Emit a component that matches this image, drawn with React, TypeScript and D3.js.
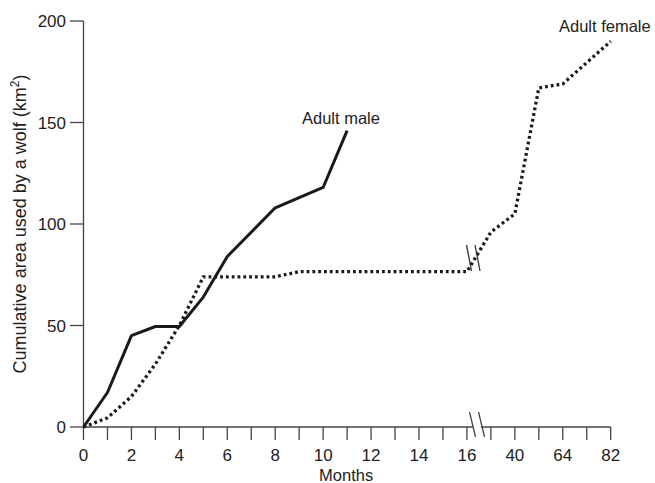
import React, { useRef, useEffect } from 'react';
import * as d3 from 'd3';

// --- Data ---
const maleMonths = [0, 1, 2, 3, 4, 5, 6, 8, 9, 10, 11];
const maleArea = [0, 17, 45, 49.5, 49.5, 64, 84, 108, 113, 118, 146];

const femaleMonths = [0, 1, 2, 3, 4, 5, 8, 9, 16, 28, 40, 52, 64, 82];
const femaleArea = [0, 4.5, 15, 31, 50, 74, 74, 76.5, 76.5, 96, 105, 167, 169, 190];

// broken axis: 0..16 months at full spacing, then 40/64/82 compressed
const xBreakDomain = [0, 16, 40, 64, 82];
const xBreakSlots = [0, 16, 18, 20, 22];
const xTickValues = [0, 1, 2, 3, 4, 5, 6, 7, 8, 9, 10, 11, 12, 13, 14, 15, 16, 28, 40, 52, 64, 73, 82];
const xTickLabels = ['0', '', '2', '', '4', '', '6', '', '8', '', '10', '', '12', '', '14', '', '16', '', '40', '', '64', '', '82'];
const yTickValues = [0, 50, 100, 150, 200];

const seriesLabels = ['Adult male', 'Adult female'];

const App = () => {
  const svgRef = useRef<SVGSVGElement>(null);

  useEffect(() => {
    const width = 655;
    const height = 483;
    const x0 = 83.5;
    const x1 = 610.7;
    const unit = (x1 - x0) / 22;

    const svg = d3.select(svgRef.current)
      .attr('width', width)
      .attr('height', height)
      .html('');

    const font = '"Liberation Sans", Arial, Helvetica, sans-serif';
    const ink = '#222';

    // --- Scales ---
    const xScale = d3.scaleLinear()
      .domain(xBreakDomain)
      .range(xBreakSlots.map(s => x0 + s * unit));
    const yScale = d3.scaleLinear().domain([0, 200]).range([427, 21]);

    const g = svg.append('g');

    // --- Y axis ---
    g.append('line')
      .attr('x1', x0).attr('x2', x0)
      .attr('y1', yScale(0)).attr('y2', yScale(200))
      .attr('stroke', '#444').attr('stroke-width', 1.3);

    g.selectAll('.ytick')
      .data(yTickValues)
      .enter()
      .append('line')
      .attr('x1', x0 - 13.5).attr('x2', x0)
      .attr('y1', d => yScale(d)).attr('y2', d => yScale(d))
      .attr('stroke', '#444').attr('stroke-width', 1.3);

    g.selectAll('.ylabel')
      .data(yTickValues)
      .enter()
      .append('text')
      .attr('x', 66)
      .attr('y', d => yScale(d) + 6)
      .attr('text-anchor', 'end')
      .attr('font-family', font)
      .attr('font-size', 17)
      .attr('fill', ink)
      .text(d => d);

    // --- X axis ---
    g.append('line')
      .attr('x1', x0).attr('x2', x1)
      .attr('y1', yScale(0)).attr('y2', yScale(0))
      .attr('stroke', '#444').attr('stroke-width', 1.3);

    g.selectAll('.xtick')
      .data(xTickValues)
      .enter()
      .append('line')
      .attr('x1', d => xScale(d)).attr('x2', d => xScale(d))
      .attr('y1', yScale(0)).attr('y2', yScale(0) + 13)
      .attr('stroke', '#444').attr('stroke-width', 1.3);

    g.selectAll('.xlabel')
      .data(xTickValues)
      .enter()
      .append('text')
      .attr('x', d => xScale(d))
      .attr('y', 461)
      .attr('text-anchor', 'middle')
      .attr('font-family', font)
      .attr('font-size', 17)
      .attr('fill', ink)
      .text((d, i) => xTickLabels[i]);

    // axis break marks
    const axBreak = xScale(16);
    g.append('rect')
      .attr('x', axBreak + 6).attr('y', yScale(0) - 2)
      .attr('width', 8).attr('height', 4)
      .attr('fill', '#fff');
    [5.6, 14.6].forEach(off => {
      g.append('line')
        .attr('x1', axBreak + off - 3).attr('x2', axBreak + off + 3)
        .attr('y1', yScale(0) - 15).attr('y2', yScale(0) + 10)
        .attr('stroke', '#444').attr('stroke-width', 1.3);
    });

    // --- Axis titles ---
    g.append('text')
      .attr('x', (x0 + x1) / 2 - 1)
      .attr('y', 481)
      .attr('text-anchor', 'middle')
      .attr('font-family', font)
      .attr('font-size', 16.5)
      .attr('fill', ink)
      .text('Months');

    const yTitle = g.append('text')
      .attr('transform', `translate(26,${(yScale(0) + yScale(200)) / 2}) rotate(-90)`)
      .attr('text-anchor', 'middle')
      .attr('font-family', font)
      .attr('font-size', 18)
      .attr('fill', ink);
    yTitle.append('tspan').text('Cumulative area used by a wolf (km');
    yTitle.append('tspan').attr('font-size', 12).attr('dy', -7).text('2');
    yTitle.append('tspan').attr('dy', 7).text(')');

    // --- Lines ---
    const line = d3.line<[number, number]>()
      .x(d => xScale(d[0]))
      .y(d => yScale(d[1]));

    const femaleData = femaleMonths.map((m, i) => [m, femaleArea[i]] as [number, number]);
    const maleData = maleMonths.map((m, i) => [m, maleArea[i]] as [number, number]);

    g.append('path')
      .attr('d', line(femaleData))
      .attr('fill', 'none')
      .attr('stroke', '#1a1a1a')
      .attr('stroke-width', 3.3)
      .attr('stroke-dasharray', '2.8 3');

    g.append('path')
      .attr('d', line(maleData))
      .attr('fill', 'none')
      .attr('stroke', '#1a1a1a')
      .attr('stroke-width', 3)
      .attr('stroke-linejoin', 'round');

    // break marks on the female line
    const lnBreak = xScale(16);
    [2.1, 10.6].forEach(off => {
      g.append('line')
        .attr('x1', lnBreak + off - 2.5).attr('x2', lnBreak + off + 2.5)
        .attr('y1', 245).attr('y2', 271)
        .attr('stroke', '#333').attr('stroke-width', 1.3);
    });

    // --- Series labels ---
    g.append('text')
      .attr('x', 302).attr('y', 124)
      .attr('font-family', font).attr('font-size', 16.5).attr('fill', ink)
      .text(seriesLabels[0]);
    g.append('text')
      .attr('x', 559).attr('y', 32)
      .attr('font-family', font).attr('font-size', 16.5).attr('fill', ink)
      .text(seriesLabels[1]);
  }, []);

  return (
    <svg ref={svgRef} style={{ position: 'absolute', left: 0, top: 0, background: '#fff' }}></svg>
  );
};

export default App;
